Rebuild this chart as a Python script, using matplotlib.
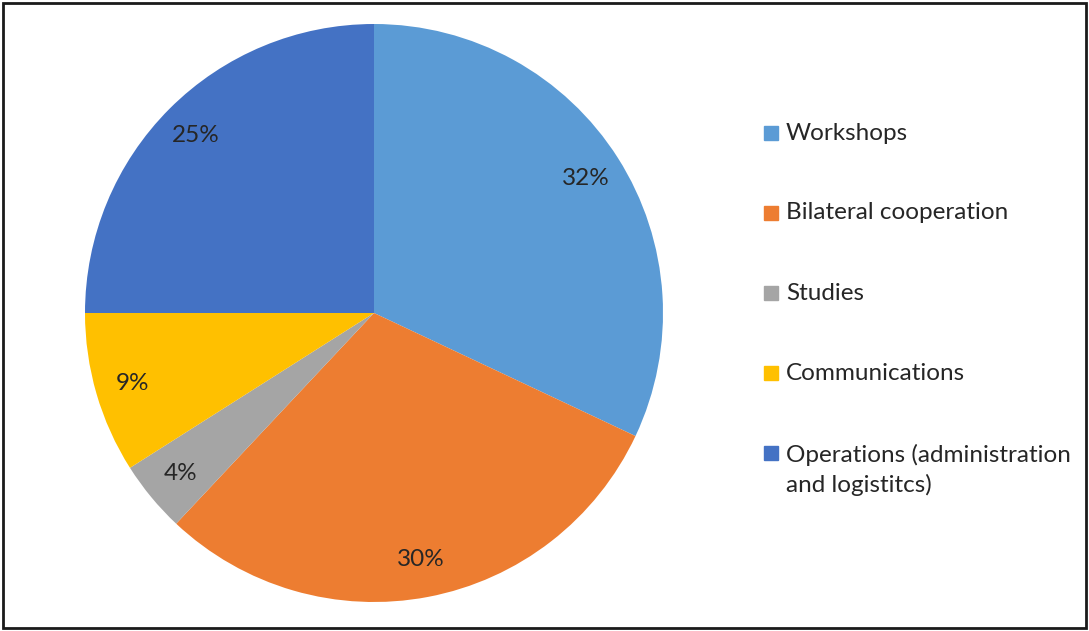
import matplotlib
matplotlib.use("Agg")
import matplotlib.pyplot as plt
from matplotlib.patches import Rectangle

categories = ["Workshops", "Bilateral cooperation", "Studies", "Communications",
              "Operations (administration\nand logistitcs)"]
shares = [32, 30, 4, 9, 25]
colors = ["#5B9BD5", "#ED7D31", "#A5A5A5", "#FFC000", "#4472C4"]

plt.rcParams["font.family"] = ["Lato", "DejaVu Sans"]

W, H = 1089, 631
fig = plt.figure(figsize=(W / 100, H / 100), dpi=100)

# pie centre / radius in pixels
cx, cy, r = 374, 313, 289
ax = fig.add_axes([(cx - r) / W, (H - cy - r) / H, 2 * r / W, 2 * r / H])
ax.pie(shares, colors=colors, startangle=90, counterclock=False, radius=1,
       autopct=lambda p: "%d%%" % round(p), pctdistance=0.87,
       textprops={"fontsize": 17.5, "color": "#262626"},
       wedgeprops={"linewidth": 0})
ax.set_xlim(-1, 1)
ax.set_ylim(-1, 1)
ax.set_aspect("equal")
ax.axis("off")

# legend, drawn by hand so the spacing matches
ys = [133, 213, 293, 373, 453]
for name, col, y in zip(categories, colors, ys):
    fig.patches.append(Rectangle((764 / W, (H - y - 7) / H), 14 / W, 14 / H,
                                 transform=fig.transFigure, color=col))
    if "\n" in name:
        # two lines, ~34 px apart
        fig.text(786 / W, (H - y - 17) / H, name, fontsize=17.5, color="#262626",
                 va="center", ha="left", linespacing=1.4)
    else:
        fig.text(786 / W, (H - y) / H, name, fontsize=17.5, color="#262626",
                 va="center", ha="left")

# outer border
fig.patches.append(Rectangle((3 / W, 3 / H), (W - 6) / W, (H - 6) / H,
                             transform=fig.transFigure, fill=False,
                             edgecolor="#1a1a1a", linewidth=2))

fig.savefig("out.png", dpi=100)
